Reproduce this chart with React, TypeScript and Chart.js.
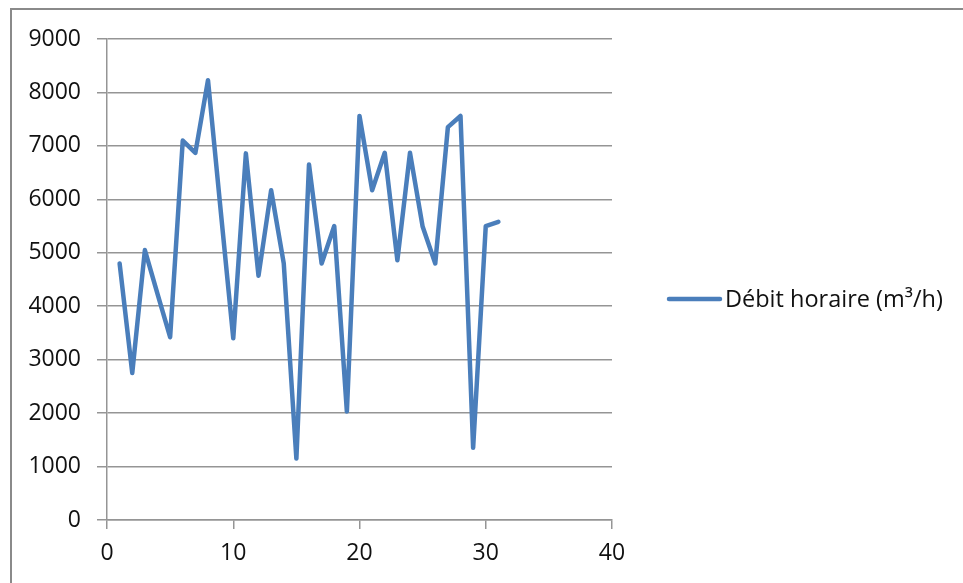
import React, { useEffect, useRef } from "react";
import { Chart, registerables } from "chart.js";

Chart.register(...registerables);

const days: number[] = [1, 2, 3, 4, 5, 6, 7, 8, 9, 10, 11, 12, 13, 14, 15, 16, 17, 18, 19, 20, 21, 22, 23, 24, 25, 26, 27, 28, 29, 30, 31];
const flow: number[] = [4800, 2750, 5050, 4230, 3420, 7100, 6870, 8230, 5800, 3400, 6860, 4570, 6170, 4800, 1150, 6650, 4800, 5500, 2030, 7560, 6170, 6870, 4860, 6870, 5490, 4800, 7350, 7560, 1350, 5500, 5580];
const seriesLabel = "Débit horaire (m³/h)";
const xTicks = { min: 0, max: 40, step: 10 };
const yTicks = { min: 0, max: 9000, step: 1000 };

const LINE = "#4a7ebb";
const GRID = "#959595";
const FONT = "'Open Sans', sans-serif";

export default function App() {
  const ref = useRef<HTMLCanvasElement | null>(null);

  useEffect(() => {
    document.body.style.margin = "0";
    const canvas = ref.current;
    if (!canvas) return;

    const legendPlugin = {
      id: "customLegend",
      afterDraw(chart: any) {
        const ctx = chart.ctx;
        const y = 299;
        ctx.save();
        ctx.strokeStyle = LINE;
        ctx.lineWidth = 4.5;
        ctx.lineCap = "round";
        ctx.beginPath();
        ctx.moveTo(669, y);
        ctx.lineTo(720, y);
        ctx.stroke();
        ctx.fillStyle = "#111";
        ctx.font = `23.5px ${FONT}`;
        ctx.textBaseline = "middle";
        ctx.textAlign = "left";
        ctx.fillText(chart.data.datasets[0].label, 725, y + 1);
        ctx.restore();
      },
    };

    const chart = new Chart(canvas, {
      type: "line",
      data: {
        datasets: [
          {
            label: seriesLabel,
            data: days.map((d, i) => ({ x: d, y: flow[i] })),
            borderColor: LINE,
            backgroundColor: LINE,
            borderWidth: 4.5,
            borderJoinStyle: "round",
            borderCapStyle: "round",
            pointRadius: 0,
            tension: 0,
            fill: false,
          },
        ],
      },
      options: {
        animation: false,
        responsive: false,
        maintainAspectRatio: false,
        layout: { padding: { left: 0, right: 351, top: 39, bottom: 0 } },
        plugins: { legend: { display: false }, tooltip: { enabled: false } },
        scales: {
          x: {
            type: "linear",
            min: xTicks.min,
            max: xTicks.max,
            afterFit(scale: any) {
              scale.height = 63;
            },
            ticks: {
              stepSize: xTicks.step,
              color: "#111",
              font: { family: FONT, size: 23 },
              padding: 11,
              maxRotation: 0,
              callback: (v: any) => String(v),
            },
            grid: {
              drawOnChartArea: false,
              drawTicks: true,
              tickLength: 9,
              color: GRID,
              lineWidth: 1.5,
            },
            border: { display: true, color: GRID, width: 1.5 },
          },
          y: {
            type: "linear",
            min: yTicks.min,
            max: yTicks.max,
            afterFit(scale: any) {
              scale.width = 107;
            },
            ticks: {
              stepSize: yTicks.step,
              color: "#111",
              font: { family: FONT, size: 23 },
              padding: 16,
              callback: (v: any) => String(v),
            },
            grid: {
              drawOnChartArea: true,
              drawTicks: true,
              tickLength: 10,
              color: GRID,
              lineWidth: 1.5,
            },
            border: { display: true, color: GRID, width: 1.5 },
          },
        },
      },
      plugins: [legendPlugin],
    } as any);

    return () => chart.destroy();
  }, []);

  return (
    <div style={{ position: "absolute", left: 0, top: 0, width: 963, height: 583, overflow: "hidden", background: "#fff" }}>
      <div
        style={{
          position: "absolute",
          left: 10,
          top: 8,
          width: 1000,
          height: 1000,
          borderLeft: "2px solid #8a8a8a",
          borderTop: "2px solid #8a8a8a",
          boxSizing: "border-box",
        }}
      />
      <canvas ref={ref} width={963} height={583} style={{ position: "absolute", left: 0, top: 0, width: 963, height: 583 }} />
    </div>
  );
}
